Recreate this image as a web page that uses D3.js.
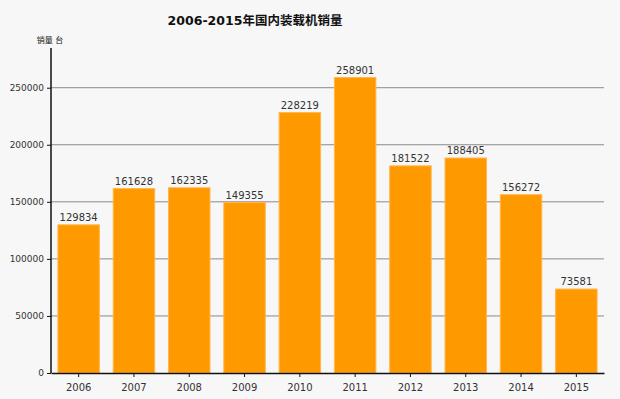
<!DOCTYPE html>
<html>
<head>
<meta charset="utf-8">
<script src="https://cdn.jsdelivr.net/npm/d3@7"></script>
<style>
  html, body { margin: 0; padding: 0; background: #f7f7f7; }
  svg { display: block; font-family: "DejaVu Sans", "Noto Sans CJK SC", sans-serif; }
</style>
</head>
<body>
<div id="chart"></div>
<script>
const years = ['2006', '2007', '2008', '2009', '2010', '2011', '2012', '2013', '2014', '2015'];
const sales = [129834, 161628, 162335, 149355, 228219, 258901, 181522, 188405, 156272, 73581];
const yTicks = [0, 50000, 100000, 150000, 200000, 250000];
const title = '2006-2015年国内装载机销量';
const yLabel = '销量 台';

const W = 620, H = 399;
const margin = { top: 48, right: 16, bottom: 26, left: 51 };
const width = W - margin.left - margin.right;
const height = H - margin.top - margin.bottom;

const svg = d3.select('#chart').append('svg')
  .attr('width', W).attr('height', H);

svg.append('rect').attr('width', W).attr('height', H).attr('fill', '#f7f7f7');

svg.append('text')
  .attr('x', 255).attr('y', 25)
  .attr('text-anchor', 'middle')
  .attr('font-size', '12.5px').attr('font-weight', 'bold')
  .attr('fill', '#111')
  .text(title);

const g = svg.append('g').attr('transform', 'translate(' + margin.left + ',' + margin.top + ')');

const x = d3.scaleBand().domain(years).range([0, width]).paddingInner(0.25).paddingOuter(0.125);
const y = d3.scaleLinear().domain([0, d3.max(sales) * 1.1]).range([height, 0]);

// grid
g.append('g')
  .selectAll('line')
  .data(yTicks.slice(1))
  .enter().append('line')
  .attr('x1', 0).attr('x2', width)
  .attr('y1', d => y(d)).attr('y2', d => y(d))
  .attr('stroke', '#8a8a8a').attr('stroke-width', 1);

// bars
g.selectAll('.bar')
  .data(sales)
  .enter().append('rect')
  .attr('class', 'bar')
  .attr('x', (d, i) => x(years[i]))
  .attr('y', d => y(d))
  .attr('width', x.bandwidth())
  .attr('height', d => height - y(d))
  .attr('fill', '#ff9900')
  .attr('stroke', '#ffb74d').attr('stroke-width', 1);

// value labels
g.selectAll('.val')
  .data(sales)
  .enter().append('text')
  .attr('x', (d, i) => x(years[i]) + x.bandwidth() / 2)
  .attr('y', d => y(d) - 4)
  .attr('text-anchor', 'middle')
  .attr('font-size', '10px')
  .attr('fill', '#333')
  .text(d => d);

// axes
const xAxis = g.append('g')
  .attr('transform', 'translate(0,' + height + ')')
  .call(d3.axisBottom(x).tickSize(4).tickSizeOuter(0));
const yAxis = g.append('g')
  .call(d3.axisLeft(y).tickValues(yTicks).tickFormat(d3.format('d')).tickSize(4).tickSizeOuter(0));

[xAxis, yAxis].forEach(a => {
  a.select('.domain').attr('stroke', '#111').attr('stroke-width', 1.5);
  a.selectAll('.tick line').attr('stroke', '#111');
  a.selectAll('.tick text').attr('fill', '#333').attr('font-size', '9px')
    .attr('font-family', '"DejaVu Sans", sans-serif');
});
xAxis.selectAll('.tick text').attr('font-size', '10px').attr('dy', '1.1em');

// extend y axis line to top
yAxis.select('.domain').attr('d', 'M0,' + height + 'V0');

svg.append('text')
  .attr('x', 50).attr('y', 43)
  .attr('text-anchor', 'middle')
  .attr('font-size', '8px')
  .attr('fill', '#111')
  .text(yLabel);
</script>
</body>
</html>
